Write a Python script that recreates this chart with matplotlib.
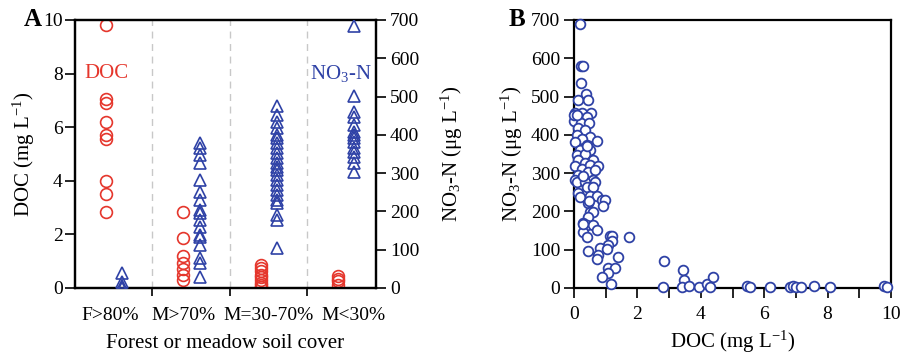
import matplotlib
matplotlib.use("Agg")
import matplotlib.pyplot as plt
import numpy as np

plt.rcParams['font.family'] = ['Liberation Serif', 'DejaVu Serif']
plt.rcParams['mathtext.fontset'] = 'custom'
plt.rcParams['mathtext.rm'] = 'Liberation Serif'
plt.rcParams['mathtext.it'] = 'Liberation Serif:italic'
plt.rcParams['font.size'] = 14
LABEL_FS = 15

RED = '#e5362c'
BLUE = '#2f42a6'

# ---- data panel A ----
categories = ['F>80%', 'M>70%', 'M=30-70%', 'M<30%']
doc_groups = [
    [9.8, 7.05, 6.9, 6.2, 5.7, 5.55, 4.0, 3.5, 2.85],
    [2.85, 1.85, 1.2, 0.95, 0.7, 0.5, 0.3],
    [0.85, 0.75, 0.65, 0.5, 0.4, 0.3, 0.2, 0.1, 0.05],
    [0.45, 0.35, 0.25, 0.1],
]
no3_groups = [
    [40, 15, 5, 2, 0],
    [378, 365, 347, 326, 282, 252, 230, 204, 195, 178, 160, 138, 134, 112, 78, 65, 30],
    [475, 452, 434, 417, 400, 391, 378, 365, 352, 339, 326, 317, 308, 295, 282,
     269, 256, 243, 230, 221, 191, 178, 104],
    [684, 501, 460, 447, 426, 408, 400, 391, 382, 365, 356, 343, 326, 304],
]

# ---- data panel B ----
b_doc = [0.19, 0.22, 0.29, 0.21, 0.38, 0.12, 0.45,
         0.03, 0.24, 0.54, 0.09, 0.40, 0.01, 0.22, 0.47, 0.14, 0.35, 0.09, 0.51,
         0.24, 0.72, 0.03, 0.40, 0.19, 0.51, 0.09, 0.35, 0.14, 0.61, 0.35, 0.03,
         0.66, 0.24, 0.51, 0.77, 0.14, 0.45, 0.66, 0.03, 0.29, 0.61, 0.40, 0.00, 0.08,
         0.09, 0.35, 0.66, 0.40, 0.61, 0.14, 0.19, 0.51, 0.72, 0.87, 0.98, 0.45,
         0.93, 0.51, 0.61, 0.45, 0.29, 0.40, 0.61, 0.72, 0.29, 0.40, 1.14, 1.19,
         1.72, 1.19, 1.08, 0.82, 1.03, 0.45, 0.77, 1.38, 0.72, 1.08, 1.29, 1.06,
         0.87, 1.17, 0.27, 0.27, 0.48, 0.42,
         2.84, 2.82, 3.45, 3.47, 3.40, 3.64, 3.93, 4.19, 4.29, 4.38, 5.47, 5.54,
         6.19, 6.80, 6.90, 7.01, 7.16, 7.58, 8.08, 9.77, 9.87]
b_no3 = [689, 580, 580, 535, 506, 491, 491,
         457, 457, 457, 449, 446, 435, 430, 430, 417, 413, 400, 395,
         388, 384, 382, 373, 360, 360, 347, 350, 334, 334, 326, 318,
         312, 312, 321, 318, 295, 304, 308, 282, 286, 282, 266, 452, 452,
         278, 278, 278, 265, 265, 247, 238, 240, 240, 230, 230, 223,
         214, 199, 199, 186, 170, 164, 164, 151, 147, 134, 137, 137,
         132, 123, 112, 104, 101, 97, 86, 82, 75, 51, 51, 40,
         30, 10, 168, 293, 226, 370,
         70, 2, 46, 20, 2, 4, 2, 11, 2, 29, 6, 2,
         2, 2, 6, 2, 2, 6, 2, 6, 2]

fig = plt.figure(figsize=(9.01, 3.55), dpi=100)

# ================= Panel A =================
axA = fig.add_axes([75 / 901, 67 / 355, 301 / 901, 268 / 355])
axA2 = axA.twinx()

for i in range(len(categories)):
    axA.plot(np.full(len(doc_groups[i]), i + 0.40), doc_groups[i], 'o', ms=8.5,
             mfc='none', mec=RED, mew=1.2, zorder=3)
    axA2.plot(np.full(len(no3_groups[i]), i + 0.61), no3_groups[i], '^', ms=8.5,
              mfc='none', mec=BLUE, mew=1.2, zorder=3)

axA.set_xlim(0, 3.89)
axA.set_ylim(0, 10)
axA2.set_ylim(0, 700)
axA.set_yticks(np.arange(0, 11, 2))
axA2.set_yticks(np.arange(0, 701, 100))

for x in [1, 2, 3]:
    axA.axvline(x, color='#c8c8c8', ls=(0, (5, 4)), lw=1.0, zorder=1)

axA.set_xticks([1, 2, 3], minor=True)
axA.set_xticks([0.45, 1.40, 2.50, 3.60])
axA.set_xticklabels(categories)
axA.tick_params(axis='x', which='major', length=0, pad=14)
axA.tick_params(axis='x', which='minor', direction='out', length=6, width=1.2)
axA.tick_params(axis='y', direction='out', length=7, width=1.2, pad=2)
axA2.tick_params(axis='y', direction='out', length=7, width=1.2, pad=3)

for ax in (axA, axA2):
    for sp in ax.spines.values():
        sp.set_linewidth(1.6)

axA.set_xlabel('Forest or meadow soil cover', fontsize=LABEL_FS, labelpad=7)
axA.set_ylabel('DOC (mg L$^{-1}$)', fontsize=LABEL_FS, labelpad=4)
axA2.set_ylabel('NO$_3$-N (μg L$^{-1}$)', fontsize=LABEL_FS, labelpad=14)

axA.text(0.41, 8.0, 'DOC', color=RED, ha='center', va='center', fontsize=15)
axA.text(3.43, 8.0, 'NO$_3$-N', color=BLUE, ha='center', va='center', fontsize=15)
fig.text(33 / 901, 1 - 20 / 355, 'A', fontsize=18, fontweight='bold',
         ha='center', va='center')

# ================= Panel B =================
axB = fig.add_axes([574 / 901, 67 / 355, 317 / 901, 268 / 355])
axB.plot(b_doc, b_no3, 'o', ms=7, mfc='white', mec=BLUE, mew=1.3,
         clip_on=False, zorder=3)
axB.set_xlim(0, 10)
axB.set_ylim(0, 700)
axB.set_xticks(np.arange(0, 11, 2))
axB.set_xticks(np.arange(0, 11, 1), minor=True)
axB.set_yticks(np.arange(0, 701, 100))
axB.tick_params(axis='both', which='both', direction='out', length=7, width=1.2)
axB.tick_params(axis='x', pad=6)
axB.tick_params(axis='y', pad=3)
for sp in axB.spines.values():
    sp.set_linewidth(1.6)
axB.set_xlabel('DOC (mg L$^{-1}$)', fontsize=LABEL_FS, labelpad=4)
axB.set_ylabel('NO$_3$-N (μg L$^{-1}$)', fontsize=LABEL_FS, labelpad=4)
fig.text(517 / 901, 1 - 20 / 355, 'B', fontsize=18, fontweight='bold',
         ha='center', va='center')

fig.savefig('out.png', dpi=100)
